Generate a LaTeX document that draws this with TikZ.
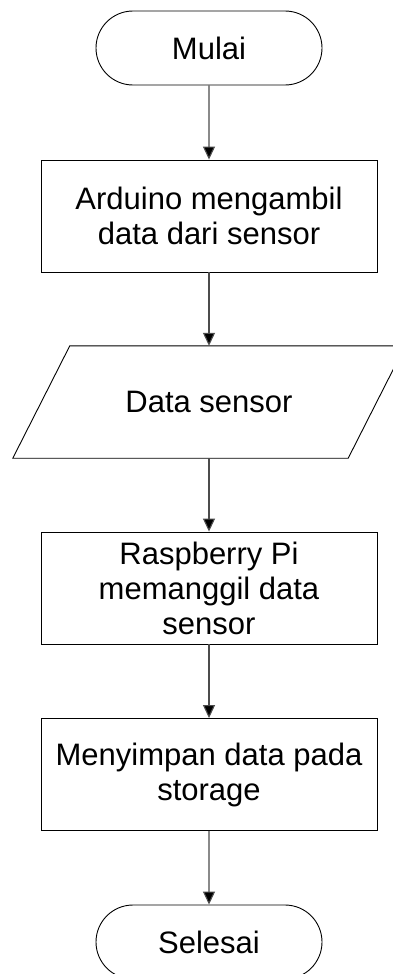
\documentclass[tikz,border=0pt]{standalone}
\usepackage{fontspec}
\setmainfont{Liberation Sans}
\usetikzlibrary{arrows.meta,shapes.misc}
\begin{document}
\begin{tikzpicture}[x=1pt,y=-1pt,
  every node/.style={font=\fontsize{31}{35}\selectfont, align=center, inner sep=0pt},
  term/.style={rounded rectangle, draw=black, line width=0.9pt, minimum width=226pt, minimum height=74pt},
  proc/.style={rectangle, draw=black, line width=0.9pt, minimum width=336pt, minimum height=112pt},
  io/.style={rectangle, draw=none, minimum width=392pt, minimum height=112pt},
  flow/.style={draw=black!70, line width=1.1pt, -{Triangle[width=12pt,length=13pt,fill=black]}}]
\useasboundingbox (0,0) rectangle (393,974);
\clip (0,0) rectangle (393,974);
\fill[white] (0,0) rectangle (393,974);
\node[term] (start) at (209,48) {Mulai};
\node[proc] (p1) at (209,216) {Arduino mengambil\\data dari sensor};
\node[io] (d) at (209,402) {Data sensor};
\draw[line width=0.9pt] (d.south west) -- ([xshift=57pt]d.north west) -- (d.north east) -- ([xshift=-57pt]d.south east) -- cycle;
\node[proc] (p2) at (209,588) {Raspberry Pi\\memanggil data\\sensor};
\node[proc] (p3) at (209,774.5) {Menyimpan data pada\\storage};
\node[term] (end) at (209,942) {Selesai};
\draw[flow] (start) -- (p1);
\draw[flow] (p1) -- (d.north);
\draw[flow] (d.south) -- (p2);
\draw[flow] (p2) -- (p3);
\draw[flow] (p3) -- (end);
\end{tikzpicture}
\end{document}
